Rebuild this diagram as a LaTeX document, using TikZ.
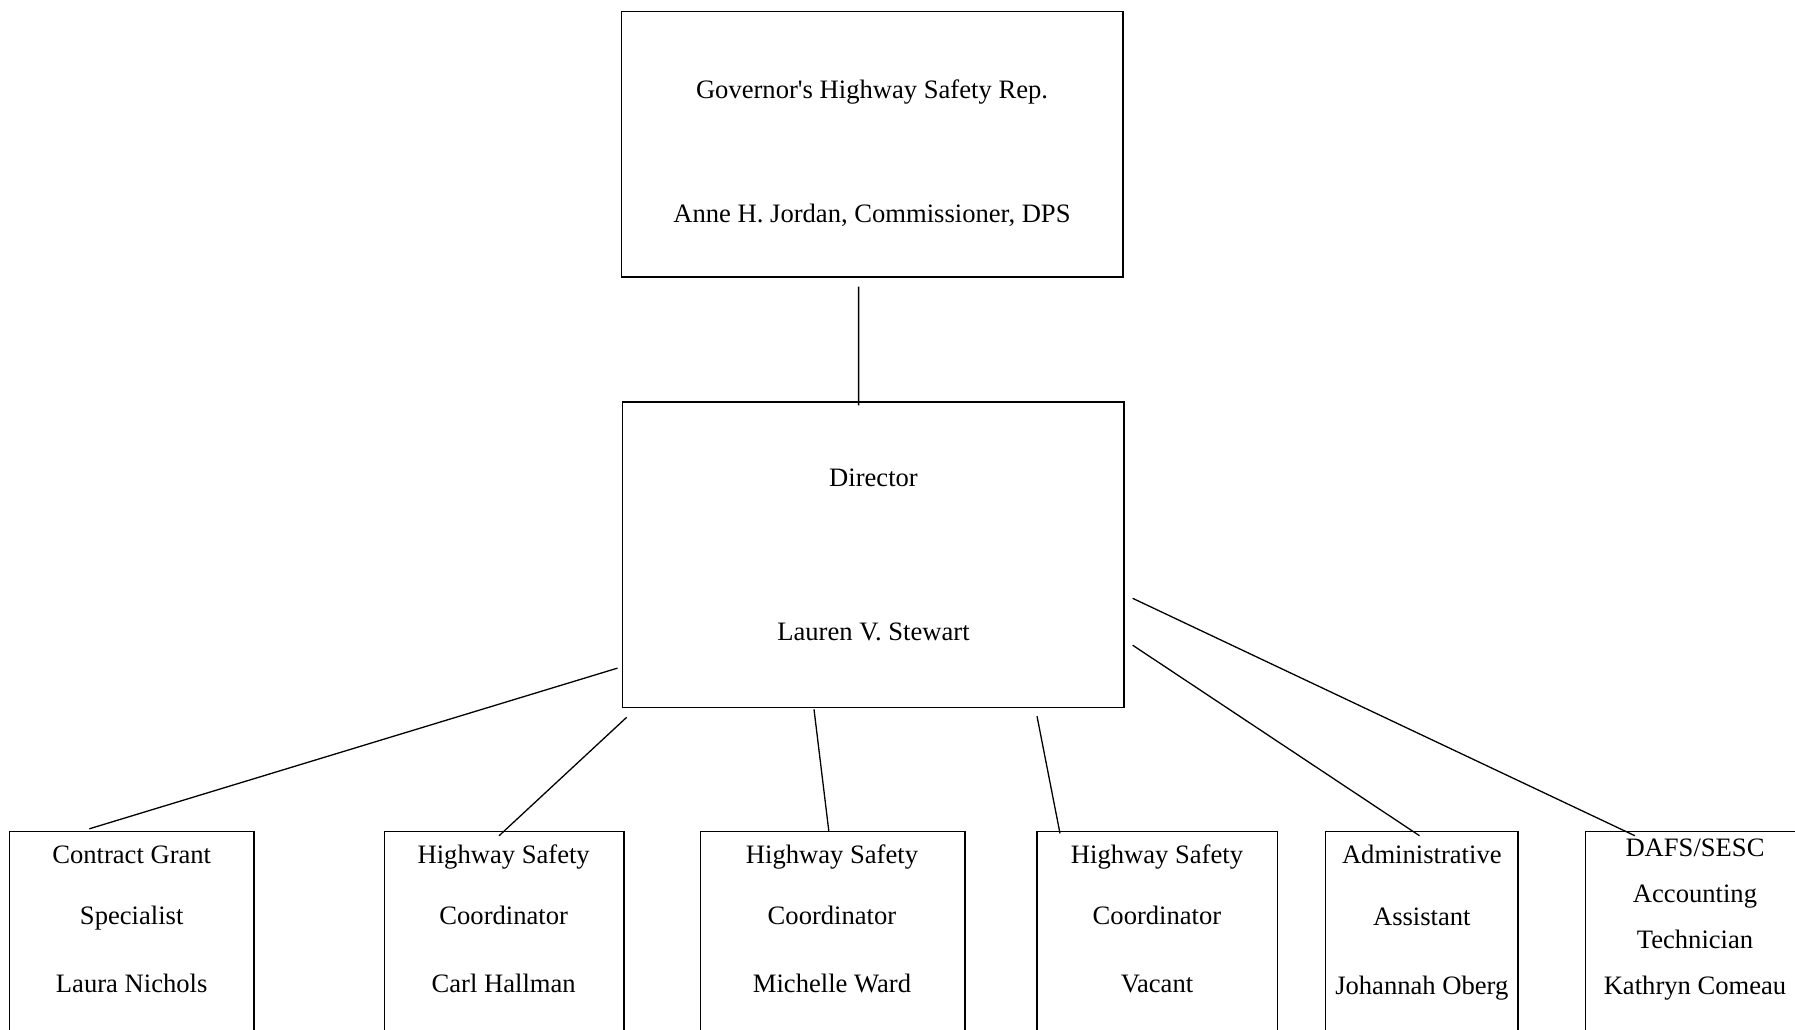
\documentclass[tikz,border=0pt]{standalone}
\usepackage{fontspec}
\setmainfont{Liberation Serif}
\usepackage{tikz}

\begin{document}
\begin{tikzpicture}[x=1pt,y=-1pt,line width=1.3pt,
    box/.style={draw,rectangle,inner sep=0pt},
    low/.style={box,anchor=north,minimum height=300pt},
    txt/.style={inner sep=0pt,text height=0.68em,text depth=0.12em,yshift=-7pt,
        font=\fontsize{26.6}{32}\selectfont}]
    \path[use as bounding box,clip] (0,0) rectangle (1795,1029);

    % top two boxes
    \node[box,minimum width=501.4pt,minimum height=265.6pt] (gov) at (872.3,144.2) {};
    \node[box,minimum width=501.2pt,minimum height=305.5pt] (dir) at (873.4,554.8) {};

    % bottom row, cut off by the page
    \node[low,minimum width=244.8pt] (cg) at (131.6,831) {};
    \node[low,minimum width=239.4pt] (hsa) at (504.3,831) {};
    \node[low,minimum width=264.4pt] (hsb) at (832.8,831) {};
    \node[low,minimum width=240.6pt] (hsc) at (1157.3,831) {};
    \node[low,minimum width=192.4pt] (aa) at (1421.8,831) {};
    \node[low,minimum width=218.8pt] (acct) at (1695,831) {};

    % texts
    \node[txt] (govA) at (872,89) {Governor\textquotesingle s Highway Safety Rep.};
    \node[txt] (govB) at (872,213) {Anne H. Jordan, Commissioner, DPS};
    \node[txt] (dirA) at (873.5,477) {Director};
    \node[txt] (dirB) at (873.5,631) {Lauren V. Stewart};

    \node[txt] (cgA) at (131.7,854) {Contract Grant};
    \node[txt] (cgB) at (131.7,915) {Specialist};
    \node[txt] (cgC) at (131.7,983) {Laura Nichols};
    \node[txt] (hsaA) at (503.7,854) {Highway Safety};
    \node[txt] (hsaB) at (503.7,915) {Coordinator};
    \node[txt] (hsaC) at (503.7,983) {Carl Hallman};
    \node[txt] (hsbA) at (832,854) {Highway Safety};
    \node[txt] (hsbB) at (832,915) {Coordinator};
    \node[txt] (hsbC) at (832,983) {Michelle Ward};
    \node[txt] (hscA) at (1157,854) {Highway Safety};
    \node[txt] (hscB) at (1157,915) {Coordinator};
    \node[txt] (hscC) at (1157,983) {Vacant};
    \node[txt] (aaA) at (1421.8,854) {Administrative};
    \node[txt] (aaB) at (1421.8,916) {Assistant};
    \node[txt] (aaC) at (1421.8,984.5) {Johannah Oberg};
    \node[txt] (acctA) at (1695,847) {DAFS/SESC};
    \node[txt] (acctB) at (1695,893) {Accounting};
    \node[txt] (acctC) at (1695,939) {Technician};
    \node[txt] (acctD) at (1695,984.5) {Kathryn Comeau};

    % connectors
    \draw ([shift={(-13.7,9)}]gov.south) -- ([shift={(-14.8,4)}]dir.north);
    \draw ([shift={(-4.6,-40.1)}]dir.south west) -- ([shift={(-42.3,-2.2)}]cg.north);
    \draw ([shift={(4.5,9.1)}]dir.south west) -- ([shift={(-5.2,4.7)}]hsa.north);
    \draw ([shift={(-59.4,1.1)}]dir.south) -- ([shift={(-4,0)}]hsb.north);
    \draw ([shift={(163.6,8)}]dir.south) -- ([shift={(-97.3,2.4)}]hsc.north);
    \draw ([shift={(8,-63)}]dir.south east) -- ([shift={(-2.3,4.7)}]aa.north);
    \draw ([shift={(8,-109.9)}]dir.south east) -- ([shift={(-60.2,4.7)}]acct.north);
\end{tikzpicture}
\end{document}
